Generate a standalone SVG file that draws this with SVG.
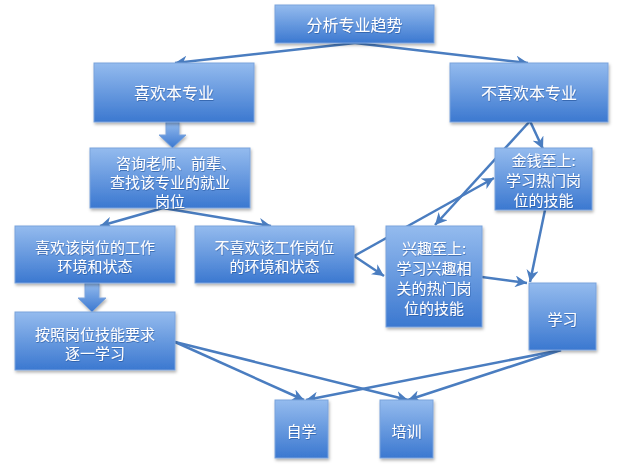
<svg xmlns="http://www.w3.org/2000/svg" width="640" height="471" viewBox="0 0 640 471">
<defs>
<linearGradient id="g" x1="0" y1="0" x2="0" y2="1">
<stop offset="0" stop-color="#94bbee"/>
<stop offset="1" stop-color="#3b78d0"/>
</linearGradient>
<filter id="sh" x="-10%" y="-10%" width="130%" height="130%">
<feDropShadow dx="1" dy="2" stdDeviation="1.5" flood-color="#000" flood-opacity="0.3"/>
</filter>
<filter id="ts" x="-10%" y="-30%" width="120%" height="160%">
<feDropShadow dx="0.5" dy="1" stdDeviation="0.6" flood-color="#1d4f96" flood-opacity="0.6"/>
</filter>
<marker id="ah" markerUnits="userSpaceOnUse" markerWidth="12" markerHeight="12" refX="10" refY="5" viewBox="0 0 10 10" orient="auto">
<path d="M0,0 L10,5 L0,10 L3,5 z" fill="#4a7dc0"/>
</marker>
<style>
.box{fill:url(#g);stroke:#7aa3dc;stroke-width:1;filter:url(#sh)}
.t{font-family:"Noto Sans CJK SC","Liberation Sans",sans-serif;font-size:15px;fill:#fff;text-anchor:middle;dominant-baseline:central;filter:url(#ts)}
.big{font-size:16px}
.c{stroke:#4a7dc0;stroke-width:2.5;fill:none;marker-end:url(#ah)}
.blk{fill:url(#g);stroke:#7aa3dc;stroke-width:1;filter:url(#sh)}
</style>
</defs>
<rect width="640" height="471" fill="#fff"/>
<g id="connectors">
<line class="c" x1="355" y1="43" x2="175" y2="63"/>
<line class="c" x1="355" y1="43" x2="528" y2="63"/>
<line class="c" x1="530" y1="121" x2="543" y2="149"/>
<line class="c" x1="530" y1="121" x2="435" y2="225"/>
<line class="c" x1="163" y1="208" x2="100" y2="226"/>
<line class="c" x1="163" y1="208" x2="271" y2="226"/>
<line class="c" x1="354" y1="256" x2="494" y2="178"/>
<line class="c" x1="354" y1="256" x2="384" y2="276"/>
<line class="c" x1="482" y1="277" x2="527" y2="283"/>
<line class="c" x1="545" y1="210" x2="530" y2="282"/>
<line class="c" x1="175" y1="342" x2="304" y2="400"/>
<line class="c" x1="175" y1="342" x2="408" y2="400"/>
<line class="c" x1="561" y1="350" x2="306" y2="400"/>
<line class="c" x1="561" y1="350" x2="408" y2="400"/>
<path class="blk" d="M166,122 L179,122 L179,135 L186,135 L172.5,148 L159,135 L166,135 z"/>
<path class="blk" d="M85,283 L99,283 L99,298 L106,298 L92,312 L78,298 L85,298 z"/>
</g>
<g id="n1"><rect class="box" x="275" y="5" width="159" height="38"/><text class="t big" x="354.5" y="24">分析专业趋势</text></g>
<g id="n2"><rect class="box" x="94" y="63" width="160" height="59"/><text class="t big" x="174" y="92">喜欢本专业</text></g>
<g id="n3"><rect class="box" x="450" y="63" width="158" height="59"/><text class="t big" x="529" y="92">不喜欢本专业</text></g>
<g id="n4"><rect class="box" x="90" y="148" width="160" height="60"/><text class="t" x="176" y="162">咨询老师、前辈、</text><text class="t" x="170" y="181">查找该专业的就业</text><text class="t" x="170" y="200">岗位</text></g>
<g id="n5"><rect class="box" x="15" y="226" width="160" height="57"/><text class="t" x="95" y="246">喜欢该岗位的工作</text><text class="t" x="95" y="265">环境和状态</text></g>
<g id="n6"><rect class="box" x="195" y="226" width="159" height="57"/><text class="t" x="274.5" y="246">不喜欢该工作岗位</text><text class="t" x="274.5" y="265">的环境和状态</text></g>
<g id="n7"><rect class="box" x="495" y="148" width="97" height="62"/><text class="t" x="543.5" y="159">金钱至上:</text><text class="t" x="543.5" y="179">学习热门岗</text><text class="t" x="543.5" y="199">位的技能</text></g>
<g id="n8"><rect class="box" x="386" y="226" width="96" height="101"/><text class="t" x="434" y="247">兴趣至上:</text><text class="t" x="434" y="267">学习兴趣相</text><text class="t" x="434" y="287">关的热门岗</text><text class="t" x="434" y="307">位的技能</text></g>
<g id="n9"><rect class="box" x="529" y="283" width="67" height="67"/><text class="t" x="562.5" y="318">学习</text></g>
<g id="n10"><rect class="box" x="15" y="312" width="160" height="58"/><text class="t" x="95" y="333">按照岗位技能要求</text><text class="t" x="95" y="352">逐一学习</text></g>
<g id="n11"><rect class="box" x="275" y="400" width="53" height="58"/><text class="t" x="301.5" y="430">自学</text></g>
<g id="n12"><rect class="box" x="380" y="400" width="53" height="58"/><text class="t" x="406.5" y="430">培训</text></g>
</svg>
